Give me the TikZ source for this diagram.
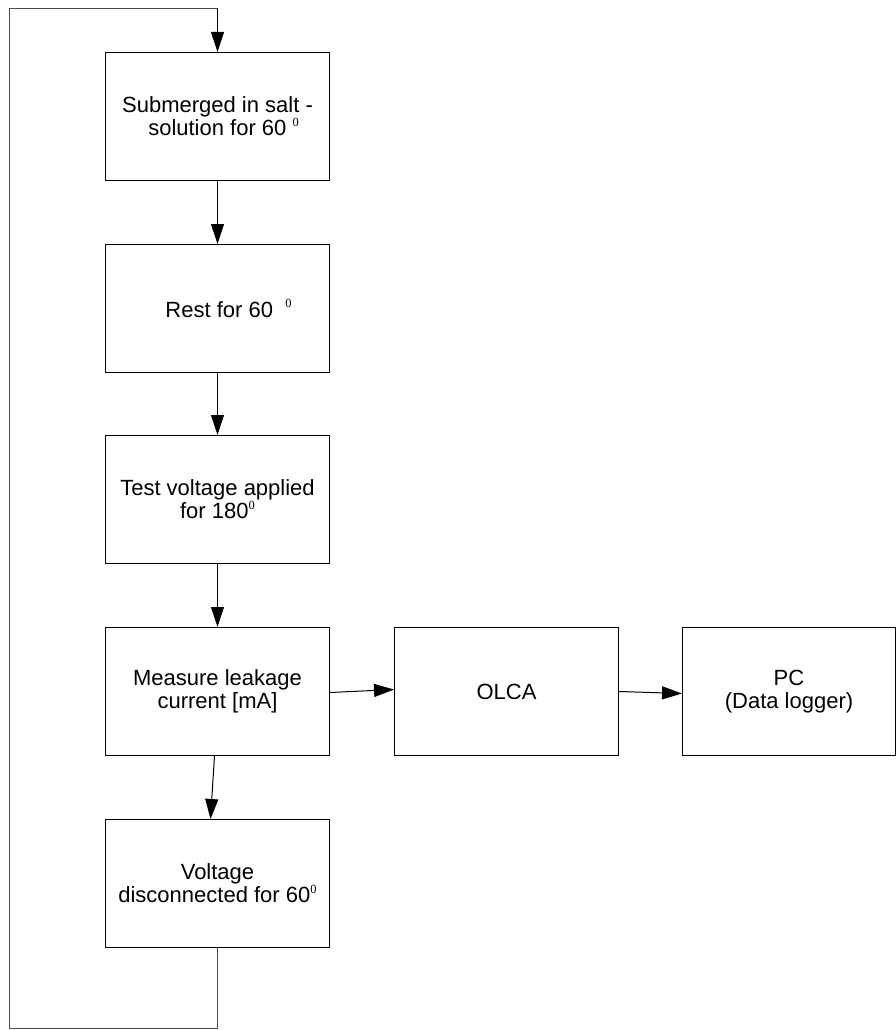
\documentclass[tikz,border=0pt]{standalone}
\usepackage{fontspec}
\setmainfont{Liberation Sans}
\newfontfamily\supfont{Liberation Serif}
\usetikzlibrary{arrows.meta}
\newcommand{\degsup}{\raisebox{0.42em}{\supfont\fontsize{12.5}{12.5}\selectfont 0}}
\begin{document}
\begin{tikzpicture}[x=1pt,y=-1pt,
  box/.style={draw,line width=1pt,minimum width=224pt,minimum height=128pt,inner sep=0pt,
    align=center,font=\fontsize{22}{23}\selectfont,anchor=north west},
  arr/.style={line width=1pt,-{Triangle[length=20pt,width=13pt]}},
  loop/.style={line width=0.8pt,draw=black!70}]
\useasboundingbox (0,0) rectangle (896,1030);
\node[box] (b1) at (105,52) {Submerged in salt -\\\hspace*{0.55em}solution for 60 \degsup};
\node[box] (b2) at (105,244) {\hspace*{1.0em}Rest for 60 \ \degsup};
\node[box] (b3) at (105,435) {Test voltage applied\\for 180\degsup};
\node[box] (b4) at (105,627) {Measure leakage\\current [mA]};
\node[box] (olca) at (394,627) {OLCA};
\node[box,minimum width=213pt] (pc) at (682,627) {PC\\(Data logger)};
\node[box] (b5) at (105,819) {Voltage\\disconnected for 60\degsup};
\coordinate (tl) at (9,8);
\coordinate (bl) at (9,1028);
\draw[arr] (b1.south) -- (b2.north);
\draw[arr] (b2.south) -- (b3.north);
\draw[arr] (b3.south) -- (b4.north);
\draw[arr] ([xshift=-3pt]b4.south) -- ([xshift=-7pt]b5.north);
\draw[arr] ([yshift=-1pt]b4.east) -- ([yshift=2pt]olca.west);
\draw[arr] ([yshift=0pt]olca.east) -- ([yshift=-2pt]pc.west);
\draw[loop] (b5.south) -- (b5.south |- bl) -- (bl) -- (tl) -- (tl -| b1.north);
\draw[arr] (tl -| b1.north) -- (b1.north);
\end{tikzpicture}
\end{document}
